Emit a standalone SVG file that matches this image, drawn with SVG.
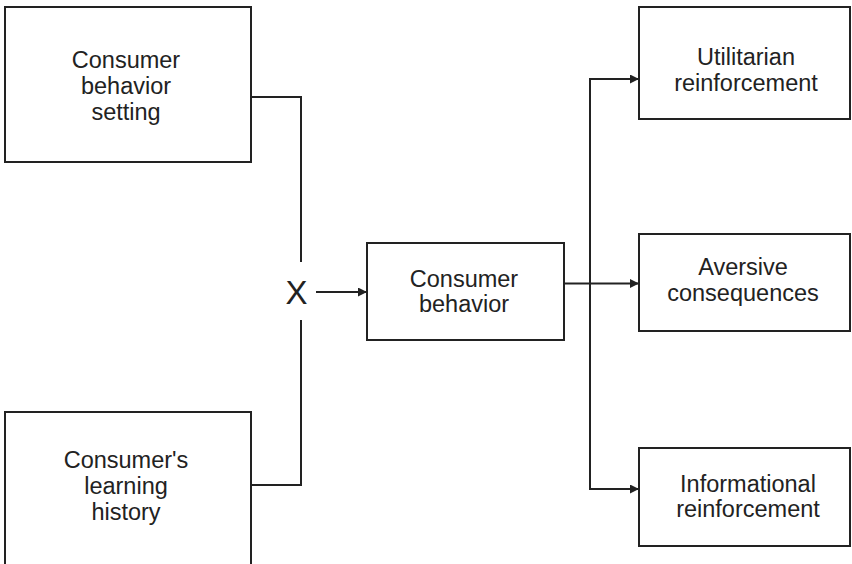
<svg xmlns="http://www.w3.org/2000/svg" width="852" height="564" viewBox="0 0 852 564">
  <defs>
    <marker id="arrow" viewBox="0 0 10 10" refX="10" refY="5" markerWidth="11" markerHeight="9" markerUnits="userSpaceOnUse" orient="auto">
      <path d="M0,0 L10,5 L0,10 Z" fill="#222"/>
    </marker>
  </defs>
  <style>
    .box { fill: #fff; stroke: #222; stroke-width: 2; }
    .lbl { font-family: "Liberation Sans", Arial, sans-serif; font-size: 23.5px; fill: #222; text-anchor: middle; }
    .wire { fill: none; stroke: #222; stroke-width: 2; }
  </style>
  <rect width="852" height="564" fill="#fff"/>

  <g id="connectors">
    <!-- inputs joining at the X -->
    <path class="wire" d="M251,97 H301 V262"/>
    <path class="wire" d="M251,485 H301 V320"/>
    <path class="wire" d="M316,292 H367" marker-end="url(#arrow)"/>
    <!-- behavior to outcomes -->
    <path class="wire" d="M564,283.5 H639" marker-end="url(#arrow)"/>
    <path class="wire" d="M639,79 H590 V489 H639" marker-end="url(#arrow)"/>
    <path class="wire" d="M590,79 H639" marker-end="url(#arrow)"/>
    <text x="296.5" y="303.5" style="font-family:'Liberation Sans', Arial, sans-serif; font-size:33px; fill:#222; text-anchor:middle">X</text>
  </g>

  <g id="setting">
    <rect class="box" x="5" y="7" width="246" height="155"/>
    <text class="lbl" x="126" y="68">Consumer</text>
    <text class="lbl" x="126" y="94">behavior</text>
    <text class="lbl" x="126" y="120">setting</text>
  </g>

  <g id="history">
    <rect class="box" x="5" y="412" width="246" height="170"/>
    <text class="lbl" x="126" y="468">Consumer's</text>
    <text class="lbl" x="126" y="494">learning</text>
    <text class="lbl" x="126" y="520">history</text>
  </g>

  <g id="behavior">
    <rect class="box" x="367" y="243" width="197" height="97"/>
    <text class="lbl" x="464" y="287">Consumer</text>
    <text class="lbl" x="464" y="312">behavior</text>
  </g>

  <g id="utilitarian">
    <rect class="box" x="639" y="7" width="211" height="112"/>
    <text class="lbl" x="746" y="65">Utilitarian</text>
    <text class="lbl" x="746" y="91">reinforcement</text>
  </g>

  <g id="aversive">
    <rect class="box" x="639" y="234" width="211" height="97"/>
    <text class="lbl" x="743" y="275">Aversive</text>
    <text class="lbl" x="743" y="301">consequences</text>
  </g>

  <g id="informational">
    <rect class="box" x="639" y="448" width="211" height="98"/>
    <text class="lbl" x="748" y="492">Informational</text>
    <text class="lbl" x="748" y="517">reinforcement</text>
  </g>
</svg>
